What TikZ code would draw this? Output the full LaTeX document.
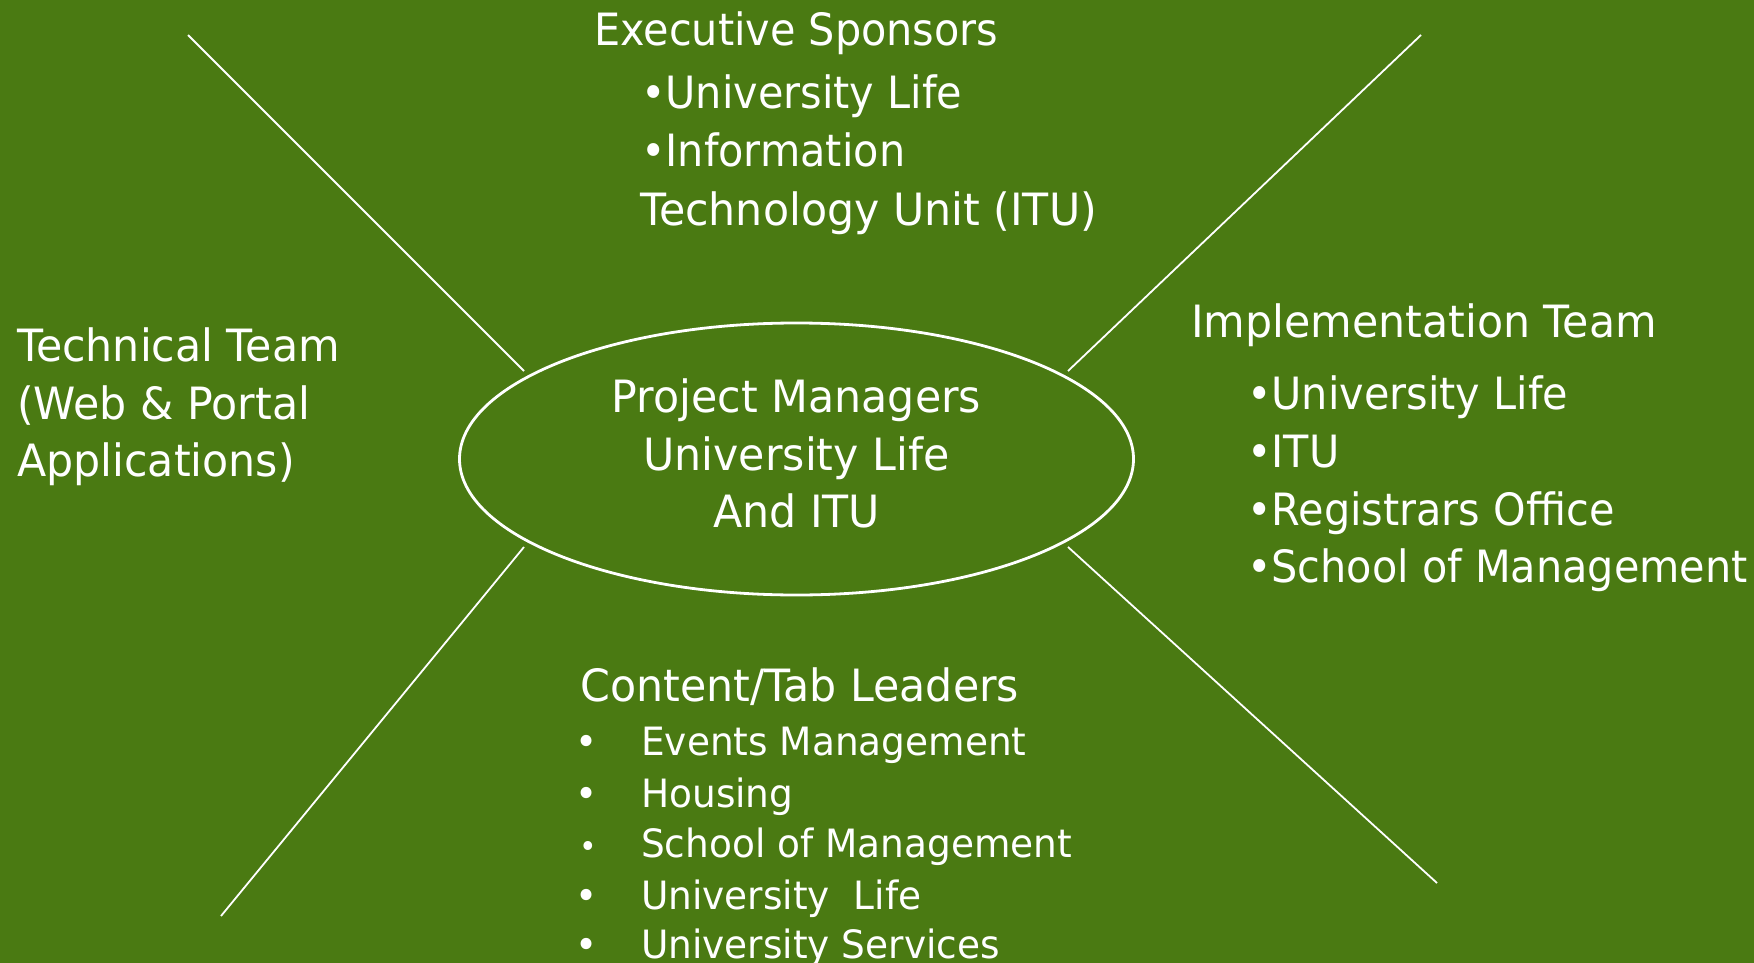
\documentclass[tikz,border=0pt]{standalone}
\usepackage{fontspec}
\setmainfont[FakeStretch=0.96]{DejaVu Sans}
\newfontfamily\narrowfont[FakeStretch=0.93]{DejaVu Sans}
\definecolor{bggreen}{RGB}{74,122,18}
\begin{document}
\begin{tikzpicture}[x=1pt,y=-1pt,
  txt/.style={text=white,inner sep=0pt,anchor=base west,font=\fontsize{44.5}{50}\selectfont},
  ntxt/.style={text=white,inner sep=0pt,anchor=base west,font=\narrowfont\fontsize{44.5}{50}\selectfont},
  ctr/.style={text=white,inner sep=0pt,anchor=base,font=\fontsize{44.5}{50}\selectfont},
  item/.style={text=white,inner sep=0pt,anchor=base west,font=\fontsize{39}{46}\selectfont},
  bul/.style={text=white,inner sep=0pt,anchor=base,font=\fontsize{39}{46}\selectfont},
  spoke/.style={draw=white,line width=1.8pt}
]
\fill[bggreen] (0,0) rectangle (1754,963);
\useasboundingbox (0,0) rectangle (1754,963);

% central ellipse
\draw[white,line width=2.8pt] (796.5,459) ellipse [x radius=337, y radius=136];
\node[ctr] (pm1) at (796.5,412) {Project Managers};
\node[ctr] (pm2) at (796.5,470) {University Life};
\node[ctr] (pm3) at (796.5,527) {And ITU};

% spokes
\coordinate (tlA) at (188,35);   \coordinate (tlB) at (524,371);
\coordinate (trA) at (1421,35);  \coordinate (trB) at (1068,371);
\coordinate (blA) at (524,547);  \coordinate (blB) at (221,916);
\coordinate (brA) at (1068,547); \coordinate (brB) at (1437,883);
\draw[spoke] (tlA) -- (tlB);
\draw[spoke] (trA) -- (trB);
\draw[spoke] (blA) -- (blB);
\draw[spoke] (brA) -- (brB);

% Executive Sponsors
\node[ntxt] (es) at (594,46) {Executive Sponsors};
\node[ntxt] (es1) at (641,109) {•University Life};
\node[ntxt] (es2) at (641,167) {•Information};
\node[txt] (es3) at (640,225) {Technology Unit (ITU)};

% Technical Team
\node[txt] (tt1) at (17,361) {Technical Team};
\node[txt] (tt2) at (17,419) {(Web \& Portal};
\node[txt] (tt3) at (17,476) {Applications)};

% Implementation Team
\node[txt] (it) at (1191,337) {Implementation Team};
\node[ntxt] (it1) at (1247,409) {•University Life};
\node[ntxt] (it2) at (1247,467) {•ITU};
\node[ntxt] (it3) at (1247,525) {•Registrars Office};
\node[ntxt] (it4) at (1247,582) {•School of Management};

% Content/Tab Leaders
\node[txt] (cl) at (580,701) {Content/Tab Leaders};
\node[bul] (b1) at (587,755) {•};
\node[item] (c1) at (641,755) {Events Management};
\node[bul] (b2) at (587,807) {•};
\node[item] (c2) at (641,807) {Housing};
\node[bul,font=\fontsize{31}{40}\selectfont] (b3) at (588,857) {•};
\node[item] (c3) at (641,857) {School of Management};
\node[bul] (b4) at (587,909) {•};
\node[item] (c4) at (641,909) {University\ \ Life};
\node[bul] (b5) at (587,958) {•};
\node[item] (c5) at (641,958) {University Services};
\end{tikzpicture}
\end{document}
